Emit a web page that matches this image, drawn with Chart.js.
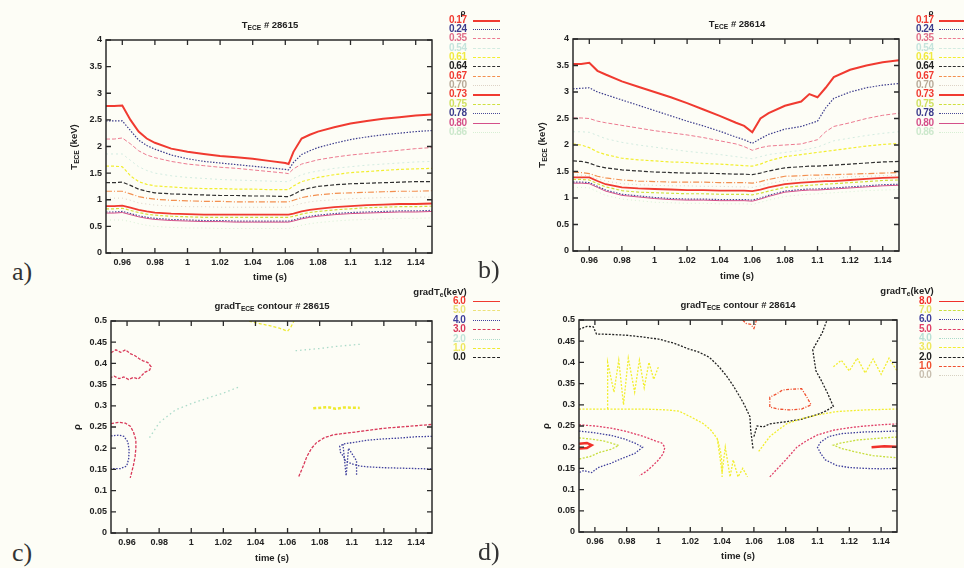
<!DOCTYPE html>
<html>
<head>
<meta charset="utf-8">
<script src="https://cdn.jsdelivr.net/npm/chart.js@4.4.1/dist/chart.umd.min.js"></script>
<style>
body { margin: 0; background: #fdfdf6; width: 964px; height: 568px; overflow: hidden; position: relative;
       font-family: "Liberation Sans", Arial, sans-serif; }
canvas { position: absolute; }
.t { position: absolute; font-weight: bold; font-size: 9.5px; color: #222; white-space: nowrap; transform: translate(-50%, -50%); }
.pl { position: absolute; font-family: "Liberation Serif", serif; font-size: 26px; color: #333; line-height: 26px; }
.lg { position: absolute; font-weight: bold; font-size: 10px; letter-spacing: -0.5px; line-height: 10px; transform: translateY(-50%); white-space: nowrap; }
.ls { position: absolute; height: 0; }
sub { font-size: 70%; vertical-align: -2px; }
</style>
</head>
<body>
<canvas id="ca"></canvas>
<canvas id="cb"></canvas>
<canvas id="cc"></canvas>
<canvas id="cd"></canvas>
<script>
// ---- axis ticks ----
const xTicks = [0.96, 0.98, 1, 1.02, 1.04, 1.06, 1.08, 1.1, 1.12, 1.14];
const teTicks = [0, 0.5, 1, 1.5, 2, 2.5, 3, 3.5, 4];
const rhoTicks = [0, 0.05, 0.1, 0.15, 0.2, 0.25, 0.3, 0.35, 0.4, 0.45, 0.5];

// ---- legend levels ----
const rhoLevels = ['0.17', '0.24', '0.35', '0.54', '0.61', '0.64', '0.67', '0.70', '0.73', '0.75', '0.78', '0.80', '0.86'];
const gradLevelsC = ['6.0', '5.0', '4.0', '3.0', '2.0', '1.0', '0.0'];
const gradLevelsD = ['8.0', '7.0', '6.0', '5.0', '4.0', '3.0', '2.0', '1.0', '0.0'];

// ---- T_ECE # 28615 (keV) ----
const timeA = [0.95, 0.955, 0.96, 0.965, 0.97, 0.975, 0.98, 0.99, 1.0, 1.01, 1.02, 1.03, 1.04, 1.05, 1.06, 1.062, 1.065, 1.07, 1.075, 1.08, 1.09, 1.1, 1.11, 1.12, 1.13, 1.14, 1.15];
const teA17 = [2.76, 2.76, 2.77, 2.5, 2.28, 2.15, 2.07, 1.96, 1.9, 1.86, 1.82, 1.8, 1.77, 1.73, 1.69, 1.67, 1.9, 2.15, 2.22, 2.28, 2.36, 2.43, 2.48, 2.52, 2.55, 2.58, 2.6];
const teA24 = [2.48, 2.48, 2.48, 2.3, 2.12, 2.02, 1.95, 1.84, 1.77, 1.72, 1.69, 1.66, 1.63, 1.6, 1.57, 1.56, 1.7, 1.85, 1.92, 1.98, 2.06, 2.13, 2.18, 2.22, 2.25, 2.28, 2.3];
const teA35 = [2.14, 2.14, 2.16, 2.05, 1.92, 1.84, 1.79, 1.72, 1.67, 1.64, 1.61, 1.59, 1.56, 1.53, 1.5, 1.49, 1.58, 1.67, 1.71, 1.75, 1.8, 1.84, 1.87, 1.9, 1.93, 1.96, 1.98];
const teA54 = [1.86, 1.86, 1.86, 1.74, 1.62, 1.55, 1.5, 1.45, 1.42, 1.4, 1.38, 1.37, 1.36, 1.35, 1.34, 1.34, 1.4, 1.47, 1.51, 1.54, 1.59, 1.62, 1.65, 1.67, 1.69, 1.71, 1.72];
const teA61 = [1.63, 1.63, 1.62, 1.45, 1.34, 1.29, 1.26, 1.24, 1.22, 1.21, 1.21, 1.2, 1.2, 1.19, 1.19, 1.19, 1.26, 1.34, 1.38, 1.42, 1.47, 1.51, 1.53, 1.55, 1.57, 1.58, 1.59];
const teA64 = [1.32, 1.32, 1.33, 1.27, 1.2, 1.16, 1.13, 1.11, 1.1, 1.09, 1.08, 1.08, 1.07, 1.07, 1.06, 1.06, 1.1, 1.18, 1.22, 1.25, 1.28, 1.3, 1.31, 1.32, 1.33, 1.34, 1.34];
const teA67 = [1.16, 1.16, 1.16, 1.11, 1.06, 1.03, 1.01, 0.99, 0.98, 0.97, 0.97, 0.96, 0.96, 0.96, 0.96, 0.96, 0.99, 1.04, 1.07, 1.09, 1.12, 1.13, 1.14, 1.15, 1.16, 1.16, 1.17];
const teA70 = [1.03, 1.03, 1.03, 0.99, 0.94, 0.92, 0.9, 0.88, 0.87, 0.87, 0.86, 0.86, 0.86, 0.86, 0.86, 0.86, 0.89, 0.93, 0.96, 0.98, 1.0, 1.02, 1.03, 1.04, 1.04, 1.05, 1.05];
const teA73 = [0.88, 0.88, 0.89, 0.85, 0.81, 0.78, 0.76, 0.74, 0.73, 0.72, 0.72, 0.72, 0.72, 0.72, 0.72, 0.72, 0.74, 0.78, 0.81, 0.83, 0.86, 0.88, 0.9, 0.91, 0.92, 0.92, 0.93];
const teA75 = [0.83, 0.83, 0.84, 0.8, 0.76, 0.73, 0.71, 0.69, 0.68, 0.67, 0.67, 0.67, 0.67, 0.67, 0.67, 0.67, 0.69, 0.73, 0.76, 0.78, 0.81, 0.83, 0.85, 0.86, 0.87, 0.87, 0.88];
const teA78 = [0.77, 0.77, 0.78, 0.74, 0.7, 0.67, 0.65, 0.63, 0.62, 0.61, 0.61, 0.6, 0.6, 0.6, 0.6, 0.6, 0.62, 0.66, 0.69, 0.71, 0.74, 0.76, 0.77, 0.78, 0.79, 0.79, 0.8];
const teA80 = [0.75, 0.75, 0.76, 0.72, 0.68, 0.65, 0.63, 0.61, 0.6, 0.59, 0.59, 0.58, 0.58, 0.58, 0.58, 0.58, 0.6, 0.64, 0.67, 0.69, 0.72, 0.74, 0.75, 0.76, 0.77, 0.77, 0.78];
const teA86 = [0.62, 0.62, 0.62, 0.59, 0.55, 0.52, 0.5, 0.48, 0.47, 0.47, 0.46, 0.46, 0.46, 0.46, 0.46, 0.46, 0.48, 0.52, 0.55, 0.57, 0.6, 0.62, 0.63, 0.64, 0.65, 0.65, 0.66];

// ---- T_ECE # 28614 (keV) ----
const timeB = [0.95, 0.955, 0.96, 0.965, 0.97, 0.98, 0.99, 1.0, 1.01, 1.02, 1.03, 1.04, 1.05, 1.055, 1.06, 1.065, 1.07, 1.08, 1.09, 1.095, 1.1, 1.105, 1.11, 1.12, 1.13, 1.14, 1.15];
const teB17 = [3.53, 3.53, 3.55, 3.4, 3.33, 3.2, 3.1, 3.0, 2.9, 2.79, 2.67, 2.55, 2.42, 2.36, 2.24, 2.5, 2.6, 2.74, 2.82, 2.96, 2.9, 3.08, 3.28, 3.42, 3.5, 3.56, 3.6];
const teB24 = [3.06, 3.07, 3.08, 3.0, 2.95, 2.85, 2.75, 2.65, 2.55, 2.45, 2.36, 2.26, 2.15, 2.1, 2.03, 2.12, 2.2, 2.3, 2.35, 2.4, 2.45, 2.7, 2.88, 3.0, 3.08, 3.13, 3.16];
const teB35 = [2.51, 2.51, 2.5, 2.45, 2.42, 2.37, 2.32, 2.27, 2.23, 2.19, 2.14, 2.08, 2.02, 1.97, 1.9, 1.95, 1.98, 2.0, 2.02, 2.06, 2.1, 2.25, 2.35, 2.42, 2.5, 2.56, 2.6];
const teB54 = [2.25, 2.25, 2.24, 2.18, 2.12, 2.05, 2.0, 1.96, 1.92, 1.88, 1.85, 1.82, 1.78, 1.76, 1.74, 1.78, 1.82, 1.86, 1.9, 1.93, 1.96, 2.02, 2.08, 2.13, 2.18, 2.22, 2.25];
const teB61 = [2.02, 2.0, 1.95, 1.87, 1.82, 1.75, 1.72, 1.7, 1.68, 1.67, 1.65, 1.64, 1.62, 1.61, 1.6, 1.64, 1.7, 1.78, 1.82, 1.84, 1.86, 1.88, 1.9, 1.94, 1.98, 2.01, 2.03];
const teB64 = [1.7, 1.69, 1.66, 1.6, 1.57, 1.53, 1.51, 1.49, 1.48, 1.47, 1.47, 1.46, 1.45, 1.45, 1.44, 1.47, 1.51, 1.57, 1.59, 1.6, 1.6, 1.61, 1.62, 1.64, 1.66, 1.68, 1.69];
const teB67 = [1.49, 1.48, 1.46, 1.41, 1.38, 1.34, 1.32, 1.31, 1.3, 1.3, 1.3, 1.29, 1.29, 1.29, 1.28, 1.31, 1.35, 1.41, 1.42, 1.43, 1.43, 1.44, 1.44, 1.45, 1.46, 1.47, 1.48];
const teB70 = [1.44, 1.43, 1.42, 1.36, 1.32, 1.27, 1.25, 1.24, 1.23, 1.23, 1.22, 1.22, 1.21, 1.21, 1.2, 1.23, 1.27, 1.33, 1.35, 1.36, 1.37, 1.38, 1.38, 1.4, 1.41, 1.42, 1.43];
const teB73 = [1.39, 1.39, 1.39, 1.32, 1.26, 1.2, 1.18, 1.17, 1.16, 1.15, 1.15, 1.14, 1.14, 1.14, 1.13, 1.16, 1.2, 1.26, 1.29, 1.3, 1.31, 1.32, 1.32, 1.34, 1.36, 1.38, 1.39];
const teB75 = [1.35, 1.35, 1.34, 1.27, 1.21, 1.14, 1.11, 1.1, 1.09, 1.08, 1.08, 1.07, 1.07, 1.07, 1.06, 1.09, 1.13, 1.2, 1.23, 1.24, 1.25, 1.26, 1.27, 1.29, 1.31, 1.33, 1.34];
const teB78 = [1.3, 1.3, 1.29, 1.22, 1.15, 1.07, 1.04, 1.01, 0.99, 0.98, 0.98, 0.97, 0.97, 0.97, 0.96, 1.0, 1.05, 1.13, 1.16, 1.17, 1.17, 1.18, 1.19, 1.21, 1.23, 1.25, 1.26];
const teB80 = [1.28, 1.28, 1.27, 1.2, 1.13, 1.05, 1.02, 0.99, 0.97, 0.96, 0.96, 0.95, 0.95, 0.95, 0.94, 0.98, 1.03, 1.11, 1.14, 1.15, 1.15, 1.16, 1.17, 1.19, 1.21, 1.23, 1.24];
const teB86 = [1.2, 1.2, 1.19, 1.12, 1.05, 0.98, 0.95, 0.92, 0.91, 0.9, 0.9, 0.89, 0.89, 0.89, 0.88, 0.92, 0.96, 1.03, 1.06, 1.07, 1.08, 1.09, 1.1, 1.12, 1.14, 1.15, 1.16];

// ---- gradT contours # 28615: [time, rho] ----
const cLvl3a = [[0.95, 0.425], [0.953, 0.432], [0.956, 0.426], [0.959, 0.432], [0.962, 0.423], [0.965, 0.418], [0.968, 0.41], [0.97, 0.406], [0.973, 0.402], [0.975, 0.392], [0.974, 0.384], [0.971, 0.379], [0.969, 0.371], [0.967, 0.363], [0.964, 0.367], [0.961, 0.362], [0.958, 0.368], [0.955, 0.364], [0.952, 0.37], [0.95, 0.367]];
const cLvl3b = [[0.95, 0.258], [0.955, 0.261], [0.959, 0.259], [0.962, 0.252], [0.964, 0.238], [0.9655, 0.22], [0.9655, 0.2], [0.965, 0.18], [0.964, 0.16], [0.963, 0.145], [0.962, 0.13]];
const cLvl3c = [[1.067, 0.133], [1.07, 0.16], [1.072, 0.18], [1.075, 0.2], [1.078, 0.213], [1.083, 0.225], [1.089, 0.232], [1.1, 0.237], [1.11, 0.242], [1.12, 0.247], [1.13, 0.25], [1.14, 0.253], [1.15, 0.256]];
const cLvl4a = [[0.95, 0.229], [0.955, 0.231], [0.958, 0.228], [0.9605, 0.215], [0.9613, 0.195], [0.961, 0.175], [0.9598, 0.158], [0.956, 0.152], [0.95, 0.152]];
const cLvl4b = [[1.15, 0.228], [1.14, 0.227], [1.13, 0.224], [1.12, 0.222], [1.11, 0.219], [1.1, 0.213], [1.095, 0.21], [1.0925, 0.205], [1.093, 0.19], [1.095, 0.18], [1.096, 0.17], [1.1, 0.163], [1.105, 0.158], [1.11, 0.156], [1.12, 0.154], [1.13, 0.153], [1.14, 0.152], [1.15, 0.151]];
const cLvl4c = [[1.0945, 0.21], [1.0965, 0.135], [1.098, 0.2], [1.103, 0.17], [1.103, 0.135]];
const cLvl1a = [[1.036, 0.5], [1.04, 0.496], [1.045, 0.492], [1.05, 0.488], [1.055, 0.483], [1.06, 0.476], [1.062, 0.485], [1.064, 0.5]];
const cLvl1b = [[1.076, 0.294], [1.085, 0.297], [1.09, 0.293], [1.095, 0.296], [1.105, 0.295]];
const cLvl2a = [[0.974, 0.225], [0.98, 0.26], [0.99, 0.29], [1.0, 0.305], [1.01, 0.318], [1.02, 0.33], [1.03, 0.345]];
const cLvl2b = [[1.065, 0.43], [1.08, 0.435], [1.09, 0.44], [1.105, 0.445]];

// ---- gradT contours # 28614: [time, rho] ----
const dLvl2a = [[0.95, 0.478], [0.955, 0.485], [0.959, 0.484], [0.961, 0.467], [0.97, 0.466], [0.98, 0.464], [0.99, 0.46], [1.0, 0.455], [1.01, 0.445], [1.018, 0.433], [1.025, 0.425], [1.032, 0.412], [1.038, 0.39], [1.043, 0.367], [1.047, 0.345], [1.051, 0.32], [1.054, 0.3], [1.0575, 0.272], [1.058, 0.24], [1.0595, 0.195]];
const dLvl2b = [[1.06, 0.225], [1.062, 0.25], [1.066, 0.248], [1.07, 0.255], [1.08, 0.26], [1.09, 0.266], [1.095, 0.272], [1.1, 0.277], [1.105, 0.285], [1.11, 0.296], [1.106, 0.33], [1.102, 0.36], [1.099, 0.38], [1.097, 0.43], [1.1, 0.45], [1.103, 0.47], [1.106, 0.5]];
const dLvl1a = [[1.07, 0.295], [1.07, 0.318], [1.074, 0.325], [1.078, 0.335], [1.085, 0.337], [1.09, 0.338], [1.093, 0.32], [1.096, 0.3], [1.09, 0.29], [1.082, 0.288], [1.075, 0.29], [1.07, 0.295]];
const dLvl1b = [[1.053, 0.5], [1.055, 0.492], [1.058, 0.49], [1.06, 0.48], [1.061, 0.49], [1.0615, 0.5]];
const dLvl3a = [[0.95, 0.29], [0.97, 0.29], [0.99, 0.29], [1.005, 0.288], [1.013, 0.285], [1.02, 0.272], [1.028, 0.256], [1.033, 0.24], [1.037, 0.22], [1.039, 0.19], [1.04, 0.16], [1.04, 0.13]];
const dLvl3b = [[1.063, 0.19], [1.067, 0.21], [1.07, 0.225], [1.075, 0.24], [1.081, 0.256], [1.09, 0.267], [1.1, 0.276], [1.112, 0.284], [1.13, 0.288], [1.15, 0.29]];
const dLvl3c = [[0.968, 0.29], [0.968, 0.4], [0.972, 0.33], [0.975, 0.405], [0.978, 0.3], [0.981, 0.41], [0.985, 0.33], [0.988, 0.405], [0.991, 0.34], [0.994, 0.4], [0.997, 0.36], [1.0, 0.39]];
const dLvl3d = [[1.037, 0.22], [1.04, 0.14], [1.042, 0.2], [1.045, 0.13], [1.047, 0.17], [1.05, 0.13], [1.053, 0.15], [1.056, 0.13]];
const dLvl3e = [[1.11, 0.39], [1.115, 0.405], [1.12, 0.38], [1.125, 0.41], [1.13, 0.375], [1.135, 0.408], [1.14, 0.372], [1.145, 0.41], [1.15, 0.38]];
const dLvl5a = [[0.95, 0.253], [0.96, 0.25], [0.97, 0.245], [0.98, 0.237], [0.99, 0.226], [0.998, 0.215], [1.002, 0.21], [1.004, 0.2], [1.003, 0.185], [1.0, 0.17], [0.996, 0.155], [0.992, 0.142], [0.988, 0.133]];
const dLvl5b = [[1.07, 0.13], [1.075, 0.15], [1.08, 0.17], [1.087, 0.2], [1.093, 0.215], [1.1, 0.229], [1.11, 0.24], [1.12, 0.246], [1.13, 0.25], [1.14, 0.253], [1.15, 0.255]];
const dLvl6a = [[0.95, 0.238], [0.96, 0.234], [0.97, 0.228], [0.978, 0.22], [0.985, 0.21], [0.99, 0.2], [0.985, 0.185], [0.978, 0.175], [0.97, 0.162], [0.962, 0.152], [0.958, 0.14], [0.953, 0.145], [0.95, 0.14]];
const dLvl6b = [[1.15, 0.238], [1.13, 0.236], [1.115, 0.232], [1.107, 0.225], [1.102, 0.212], [1.1, 0.2], [1.102, 0.185], [1.105, 0.17], [1.112, 0.157], [1.12, 0.152], [1.13, 0.15], [1.14, 0.149], [1.15, 0.15]];
const dLvl7a = [[0.95, 0.222], [0.958, 0.219], [0.965, 0.215], [0.97, 0.21], [0.975, 0.204], [0.97, 0.195], [0.963, 0.188], [0.957, 0.178], [0.95, 0.172]];
const dLvl7b = [[1.15, 0.224], [1.135, 0.22], [1.125, 0.217], [1.115, 0.21], [1.11, 0.205], [1.115, 0.197], [1.125, 0.188], [1.135, 0.18], [1.15, 0.175]];
const dLvl8a = [[0.95, 0.208], [0.955, 0.21], [0.958, 0.205], [0.955, 0.198], [0.95, 0.197]];
const dLvl8b = [[1.134, 0.2], [1.142, 0.202], [1.15, 0.201]];

// ---- styles ----
const rhoStyle = [
  { c: '#f03a30', w: 2, d: [], txt: '#f03a30' },
  { c: '#3c3c8c', w: 1.2, d: [1.5, 1.5], txt: '#3c3c8c' },
  { c: '#ec7a90', w: 1, d: [4, 2], txt: '#e0708a' },
  { c: 'rgba(160,215,200,0.45)', w: 1, d: [2, 3], txt: '#c4e4dc' },
  { c: '#f2ee30', w: 1.2, d: [3, 2], txt: '#f0ea40' },
  { c: '#303030', w: 1.2, d: [4, 2], txt: '#222' },
  { c: '#f39050', w: 1.2, d: [6, 2, 1, 2], txt: '#f03a30' },
  { c: 'rgba(190,170,150,0.5)', w: 1, d: [1, 3], txt: '#b8aa98' },
  { c: '#f03a30', w: 1.8, d: [], txt: '#f03a30' },
  { c: '#cfe040', w: 1.2, d: [3, 2], txt: '#cfe060' },
  { c: '#4a4a98', w: 1.2, d: [1.5, 1.5], txt: '#3c3c8c' },
  { c: '#d4508a', w: 1, d: [], txt: '#d4508a' },
  { c: 'rgba(190,230,190,0.6)', w: 1, d: [1, 3], txt: '#cce8cc' }
];
const gradStyleC = {
  '6.0': { c: '#f03a30', d: [], txt: '#f03a30' },
  '5.0': { c: '#ece27a', d: [2, 2], txt: '#e8e27a' },
  '4.0': { c: '#3f3f9c', d: [1.5, 1.5], txt: '#3f3f9c' },
  '3.0': { c: '#d93a5a', d: [3, 1.5], txt: '#d93a5a' },
  '2.0': { c: 'rgba(150,210,190,0.8)', d: [1.5, 3], txt: '#c0e4d8' },
  '1.0': { c: '#eeea30', d: [3, 2], txt: '#eee860' },
  '0.0': { c: '#222', d: [3, 2], txt: '#222' }
};
const gradStyleD = {
  '8.0': { c: '#f0302a', d: [], txt: '#f0302a' },
  '7.0': { c: '#c8de40', d: [2, 1.5], txt: '#e6e46a' },
  '6.0': { c: '#3f3f9c', d: [1.5, 1.5], txt: '#3f3f9c' },
  '5.0': { c: '#e04068', d: [2, 1.5], txt: '#e04068' },
  '4.0': { c: 'rgba(150,210,190,0.8)', d: [1.5, 3], txt: '#b9e0d5' },
  '3.0': { c: '#f2ee30', d: [2, 1.5], txt: '#eee860' },
  '2.0': { c: '#222', d: [2, 1.5], txt: '#222' },
  '1.0': { c: '#f05030', d: [3, 1.5, 1, 1.5], txt: '#f05030' },
  '0.0': { c: 'rgba(190,180,160,0.6)', d: [1, 2], txt: '#c8bfb0' }
};

// ---- helpers ----
const fmt = v => String(+(+v).toFixed(2));
const toPts = (xs, ys) => xs.map((x, i) => ({ x, y: ys[i] }));
const pairPts = arr => arr.map(p => ({ x: p[0], y: p[1] }));

const framePlugin = {
  id: 'frame',
  afterDraw(chart) {
    const { ctx, chartArea: a, scales: { x, y } } = chart;
    ctx.save();
    ctx.strokeStyle = '#2a2a2a';
    ctx.lineWidth = 1.5;
    ctx.strokeRect(a.left, a.top, a.right - a.left, a.bottom - a.top);
    ctx.lineWidth = 1.3;
    ctx.beginPath();
    x.ticks.forEach(t => {
      const p = x.getPixelForValue(t.value);
      ctx.moveTo(p, a.bottom); ctx.lineTo(p, a.bottom - 5);
      ctx.moveTo(p, a.top); ctx.lineTo(p, a.top + 5);
    });
    y.ticks.forEach(t => {
      const p = y.getPixelForValue(t.value);
      ctx.moveTo(a.left, p); ctx.lineTo(a.left + 5, p);
      ctx.moveTo(a.right, p); ctx.lineTo(a.right - 5, p);
    });
    ctx.stroke();
    ctx.restore();
  }
};

function makePanel(id, box, yMax, yTickList, datasets) {
  const yw = 50, xh = 27, pad = 10;
  const cv = document.getElementById(id);
  const w = box.r - box.l + yw + pad, h = box.b - box.t + pad + xh;
  cv.width = w; cv.height = h;
  cv.style.left = (box.l - yw) + 'px';
  cv.style.top = (box.t - pad) + 'px';
  const tickFont = { family: '"Liberation Sans", Arial, sans-serif', size: 9, weight: 'bold' };
  return new Chart(cv, {
    type: 'scatter',
    data: { datasets },
    options: {
      responsive: false,
      animation: false,
      events: [],
      layout: { padding: { top: pad, right: pad, left: 0, bottom: 0 } },
      plugins: { legend: { display: false }, tooltip: { enabled: false } },
      elements: { point: { radius: 0 }, line: { tension: 0 } },
      scales: {
        x: {
          type: 'linear', min: 0.95, max: 1.15,
          grid: { display: false, drawTicks: false },
          border: { display: false },
          afterBuildTicks: s => { s.ticks = xTicks.map(v => ({ value: v })); },
          afterFit: s => { s.height = xh; },
          ticks: { padding: 4, color: '#222', font: tickFont, callback: fmt, maxRotation: 0, autoSkip: false }
        },
        y: {
          type: 'linear', min: 0, max: yMax,
          grid: { display: false, drawTicks: false },
          border: { display: false },
          afterBuildTicks: s => { s.ticks = yTickList.map(v => ({ value: v })); },
          afterFit: s => { s.width = yw; },
          ticks: { padding: 4, color: '#222', font: tickFont, callback: fmt, autoSkip: false }
        }
      }
    },
    plugins: [framePlugin]
  });
}

function lineSet(pts, st, w) {
  return { data: pts, showLine: true, borderColor: st.c, borderWidth: w || st.w || 1.2, borderDash: st.d, pointRadius: 0, fill: false };
}

// ---- panel a ----
const seriesA = [teA17, teA24, teA35, teA54, teA61, teA64, teA67, teA70, teA73, teA75, teA78, teA80, teA86];
makePanel('ca', { l: 106, t: 40, r: 432, b: 253 }, 4, teTicks,
  seriesA.map((s, i) => lineSet(toPts(timeA, s), rhoStyle[i])).reverse());

// ---- panel b ----
const seriesB = [teB17, teB24, teB35, teB54, teB61, teB64, teB67, teB70, teB73, teB75, teB78, teB80, teB86];
makePanel('cb', { l: 573, t: 39, r: 899, b: 251 }, 4, teTicks,
  seriesB.map((s, i) => lineSet(toPts(timeB, s), rhoStyle[i])).reverse());

// ---- panel c ----
const contoursC = [
  [cLvl2a, '2.0'], [cLvl2b, '2.0'], [cLvl1a, '1.0'], [cLvl1b, '1.0'],
  [cLvl3a, '3.0'], [cLvl3b, '3.0'], [cLvl3c, '3.0'],
  [cLvl4a, '4.0'], [cLvl4b, '4.0'], [cLvl4c, '4.0']
];
makePanel('cc', { l: 111, t: 321, r: 432, b: 533 }, 0.5, rhoTicks,
  contoursC.map(([p, lv]) => lineSet(pairPts(p), gradStyleC[lv], lv === '1.0' && p === cLvl1b ? 2.5 : 1.3)));

// ---- panel d ----
const contoursD = [
  [dLvl3a, '3.0'], [dLvl3b, '3.0'], [dLvl3c, '3.0'], [dLvl3d, '3.0'], [dLvl3e, '3.0'],
  [dLvl5a, '5.0'], [dLvl5b, '5.0'], [dLvl6a, '6.0'], [dLvl6b, '6.0'],
  [dLvl7a, '7.0'], [dLvl7b, '7.0'], [dLvl8a, '8.0'], [dLvl8b, '8.0'],
  [dLvl1a, '1.0'], [dLvl1b, '1.0'], [dLvl2a, '2.0'], [dLvl2b, '2.0']
];
makePanel('cd', { l: 579, t: 320, r: 897, b: 532 }, 0.5, rhoTicks,
  contoursD.map(([p, lv]) => lineSet(pairPts(p), gradStyleD[lv], lv === '8.0' ? 2.5 : 1.3)));

// ---- texts ----
function addText(html, x, y, cls, extra) {
  const d = document.createElement('div');
  d.className = cls;
  d.innerHTML = html;
  d.style.left = x + 'px';
  d.style.top = y + 'px';
  if (extra) Object.assign(d.style, extra);
  document.body.appendChild(d);
  return d;
}
addText('T<sub>ECE</sub> # 28615', 270, 25, 't');
addText('T<sub>ECE</sub> # 28614', 737, 24, 't');
addText('gradT<sub>ECE</sub> contour # 28615', 272, 306, 't');
addText('gradT<sub>ECE</sub> contour # 28614', 738, 305, 't');
addText('time (s)', 270, 276, 't');
addText('time (s)', 737, 275, 't');
addText('time (s)', 272, 557, 't');
addText('time (s)', 738, 555, 't');
addText('T<sub>ECE</sub> (keV)', 74, 147, 't', { transform: 'translate(-50%,-50%) rotate(-90deg)' });
addText('T<sub>ECE</sub> (keV)', 542, 145, 't', { transform: 'translate(-50%,-50%) rotate(-90deg)' });
addText('ρ', 76, 427, 't', { transform: 'translate(-50%,-50%) rotate(-90deg)' });
addText('ρ', 545, 426, 't', { transform: 'translate(-50%,-50%) rotate(-90deg)' });
addText('a)', 12, 259, 'pl');
addText('b)', 478, 257, 'pl');
addText('c)', 12, 540, 'pl');
addText('d)', 478, 539, 'pl');

function sampleStyle(st, w) {
  const dashLen = st.d.length ? st.d[0] : 0;
  const type = !st.d.length ? 'solid' : (dashLen <= 1.5 ? 'dotted' : 'dashed');
  return { borderTop: (w || 1) + 'px ' + type + ' ' + st.c };
}
function legend(items, styles, textX, lineX, lineW, y0, step) {
  items.forEach((lab, i) => {
    const st = styles(lab, i);
    const y = y0 + i * step;
    addText(lab, textX, y, 'lg', { color: st.txt });
    addText('', lineX, y, 'ls', Object.assign({ width: lineW + 'px' }, sampleStyle(st, st.w && st.w > 1.5 ? 2 : 1)));
  });
}
addText('ρ', 463, 12, 't', { fontSize: '8px' });
addText('ρ', 931, 12, 't', { fontSize: '8px' });
legend(rhoLevels, (l, i) => rhoStyle[i], 449, 473, 27, 19.5, 9.37);
legend(rhoLevels, (l, i) => rhoStyle[i], 916, 939, 26, 19.5, 9.37);
addText('gradT<sub>e</sub>(keV)', 440, 292, 't');
addText('gradT<sub>e</sub>(keV)', 907, 291, 't');
legend(gradLevelsC, l => gradStyleC[l], 453, 473, 27, 301, 9.4);
legend(gradLevelsD, l => gradStyleD[l], 919, 939, 26, 300.7, 9.3);
</script>
</body>
</html>
